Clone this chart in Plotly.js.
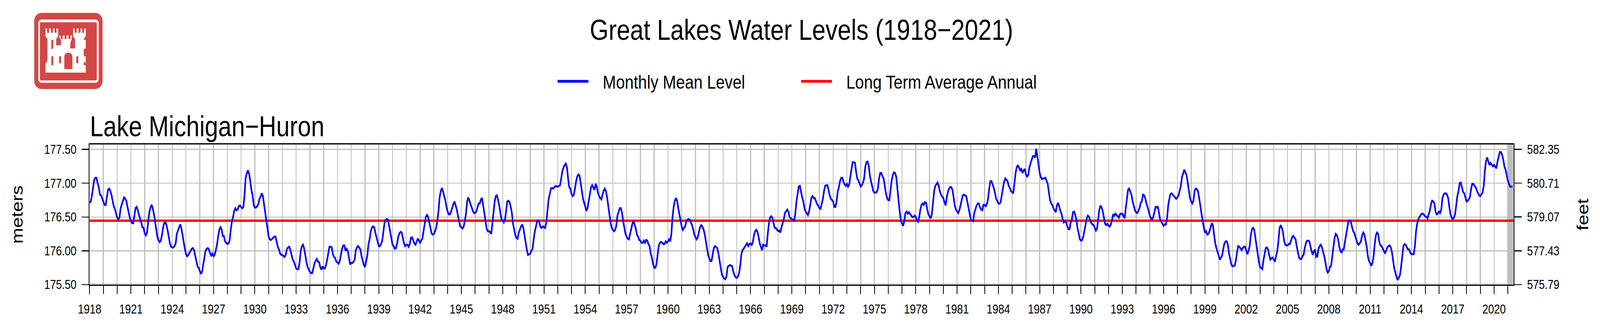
<!DOCTYPE html>
<html>
<head>
<meta charset="utf-8">
<script src="https://cdn.plot.ly/plotly-3.0.1.min.js"></script>
<style>html,body{margin:0;padding:0;background:#fff;overflow:hidden}</style>
</head>
<body>
<div id="chart" style="width:4927px;height:858px"></div>
<script>
const startYear = 1918;
const levels1918s = [
176.71,176.73,176.82,176.94,177.05,177.08,177.08,177.00,176.94,176.83,176.82,176.77,
176.73,176.68,176.68,176.78,176.90,176.92,176.89,176.83,176.73,176.66,176.62,176.55];
const levels1920s = [
176.49,176.47,176.49,176.63,176.69,176.75,176.79,176.77,176.74,176.65,176.57,176.49,
176.44,176.41,176.41,176.53,176.63,176.65,176.60,176.53,176.48,176.42,176.35,176.34,
176.26,176.23,176.27,176.42,176.57,176.64,176.68,176.63,176.55,176.44,176.32,176.21,
176.16,176.13,176.15,176.23,176.34,176.41,176.42,176.38,176.30,176.19,176.11,176.06,
176.05,176.05,176.07,176.11,176.25,176.30,176.34,176.39,176.33,176.23,176.11,176.03,
175.95,175.92,175.94,175.97,176.00,176.03,176.04,176.01,175.93,175.85,175.77,175.75,
175.70,175.66,175.69,175.79,175.87,176.00,176.03,176.04,176.02,175.96,175.93,175.96,
175.92,175.94,176.01,176.09,176.21,176.31,176.35,176.32,176.22,176.22,176.14,176.12,
176.10,176.11,176.15,176.31,176.44,176.50,176.59,176.63,176.60,176.61,176.66,176.67,
176.65,176.63,176.65,176.83,177.08,177.15,177.19,177.14,177.03,176.90,176.82,176.68];
const levels1930s = [
176.64,176.64,176.66,176.69,176.77,176.80,176.85,176.81,176.69,176.58,176.44,176.33,
176.21,176.17,176.16,176.18,176.20,176.21,176.21,176.14,176.06,176.02,175.96,175.94,
175.94,175.92,175.91,175.95,176.03,176.05,176.06,176.01,175.94,175.87,175.84,175.78,
175.74,175.73,175.73,175.83,176.00,176.07,176.09,176.03,175.92,175.83,175.76,175.72,
175.69,175.67,175.67,175.74,175.82,175.85,175.88,175.84,175.83,175.76,175.72,175.77,
175.74,175.74,175.79,175.87,175.97,176.06,176.06,176.05,175.95,175.91,175.89,175.84,
175.83,175.81,175.85,175.93,176.03,176.08,176.08,176.00,176.03,176.00,175.90,175.80,
175.82,175.82,175.84,175.87,176.01,176.05,176.07,176.05,176.02,175.92,175.85,175.79,
175.76,175.84,175.93,176.09,176.17,176.29,176.34,176.36,176.35,176.27,176.21,176.13,
176.07,176.07,176.10,176.15,176.29,176.41,176.46,176.47,176.46,176.36,176.27,176.18];
const levels1940s = [
176.09,176.07,176.03,176.04,176.11,176.21,176.26,176.28,176.27,176.19,176.11,176.07,
176.09,176.09,176.06,176.10,176.19,176.20,176.16,176.11,176.09,176.13,176.18,176.15,
176.12,176.15,176.18,176.29,176.40,176.50,176.53,176.50,176.42,176.35,176.26,176.24,
176.25,176.29,176.34,176.44,176.58,176.79,176.88,176.93,176.88,176.81,176.75,176.65,
176.58,176.54,176.54,176.58,176.64,176.69,176.73,176.67,176.61,176.52,176.44,176.36,
176.35,176.33,176.36,176.44,176.55,176.73,176.79,176.74,176.69,176.64,176.59,176.56,
176.56,176.58,176.64,176.70,176.70,176.76,176.78,176.68,176.56,176.44,176.33,176.29,
176.29,176.28,176.25,176.40,176.58,176.73,176.81,176.82,176.75,176.67,176.56,176.46,
176.45,176.42,176.46,176.59,176.73,176.74,176.72,176.65,176.56,176.40,176.30,176.23,
176.19,176.18,176.27,176.32,176.36,176.39,176.34,176.23,176.11,176.02,175.94,175.95];
const levels1950s = [
175.96,176.00,176.03,176.17,176.29,176.36,176.44,176.45,176.42,176.35,176.34,176.36,
176.35,176.34,176.42,176.59,176.76,176.84,176.92,176.93,176.92,176.94,176.96,176.95,
176.95,176.96,176.97,177.07,177.18,177.23,177.27,177.29,177.23,177.07,176.94,176.92,
176.84,176.81,176.83,176.92,177.03,177.10,177.13,177.11,177.00,176.86,176.77,176.71,
176.64,176.59,176.64,176.73,176.84,176.94,176.97,176.93,176.90,176.99,176.95,176.86,
176.81,176.78,176.76,176.83,176.89,176.92,176.88,176.79,176.65,176.54,176.42,176.34,
176.31,176.29,176.31,176.37,176.52,176.58,176.63,176.63,176.56,176.44,176.34,176.25,
176.21,176.18,176.17,176.25,176.33,176.40,176.44,176.39,176.33,176.24,176.21,176.16,
176.15,176.12,176.12,176.15,176.12,176.16,176.15,176.10,176.07,175.96,175.90,175.81,
175.75,175.75,175.80,175.94,176.07,176.12,176.13,176.12,176.10,176.10,176.14,176.12];
const levels1960s = [
176.14,176.17,176.14,176.25,176.50,176.65,176.74,176.78,176.74,176.63,176.54,176.42,
176.36,176.31,176.33,176.36,176.43,176.46,176.47,176.46,176.42,176.38,176.32,176.24,
176.20,176.17,176.20,176.28,176.35,176.38,176.36,176.32,176.25,176.15,176.05,175.94,
175.89,175.85,175.85,175.94,176.04,176.07,176.05,176.04,175.96,175.86,175.76,175.65,
175.62,175.59,175.58,175.62,175.76,175.78,175.79,175.78,175.77,175.69,175.64,175.61,
175.60,175.62,175.67,175.78,175.95,176.01,176.03,176.06,176.08,176.11,176.07,176.10,
176.11,176.08,176.13,176.23,176.29,176.31,176.28,176.21,176.11,176.06,176.01,176.09,
176.08,176.08,176.06,176.25,176.40,176.49,176.51,176.49,176.41,176.34,176.34,176.31,
176.29,176.30,176.27,176.35,176.41,176.47,176.56,176.59,176.61,176.58,176.50,176.48,
176.47,176.46,176.44,176.55,176.73,176.84,176.95,176.96,176.86,176.79,176.73,176.63];
const levels1970s = [
176.58,176.55,176.53,176.58,176.70,176.78,176.81,176.78,176.78,176.73,176.69,176.67,
176.63,176.62,176.69,176.76,176.88,176.96,176.97,176.97,176.90,176.82,176.77,176.75,
176.73,176.65,176.65,176.73,176.88,176.94,177.03,177.08,177.08,177.02,176.98,176.96,
176.99,176.95,176.98,177.10,177.21,177.31,177.31,177.30,177.17,177.07,177.04,176.99,
176.95,176.97,177.01,177.07,177.24,177.31,177.32,177.26,177.11,177.03,176.94,176.88,
176.86,176.86,176.87,176.92,177.07,177.15,177.15,177.10,177.07,176.94,176.85,176.78,
176.75,176.75,176.90,177.04,177.12,177.16,177.15,177.09,176.92,176.73,176.58,176.44,
176.41,176.37,176.44,176.56,176.58,176.55,176.57,176.55,176.53,176.50,176.50,176.52,
176.50,176.45,176.43,176.50,176.61,176.68,176.70,176.68,176.72,176.71,176.61,176.54,
176.51,176.48,176.54,176.71,176.88,176.96,176.99,177.01,176.96,176.88,176.83,176.81];
const levels1980s = [
176.78,176.72,176.67,176.79,176.87,176.92,176.94,176.94,176.90,176.79,176.67,176.61,
176.58,176.56,176.60,176.68,176.76,176.82,176.83,176.82,176.81,176.72,176.64,176.56,
176.46,176.45,176.44,176.56,176.62,176.67,176.70,176.70,176.64,176.61,176.60,176.68,
176.68,176.66,176.69,176.77,176.92,177.03,177.03,176.98,176.93,176.86,176.77,176.74,
176.70,176.70,176.72,176.83,176.93,177.02,177.07,177.05,177.03,176.96,176.93,176.88,
176.87,176.85,177.00,177.15,177.24,177.26,177.23,177.19,177.21,177.15,177.19,177.21,
177.13,177.10,177.12,177.23,177.29,177.35,177.40,177.40,177.38,177.51,177.38,177.24,
177.15,177.09,177.06,177.07,177.07,177.08,177.04,176.99,176.87,176.75,176.70,176.68,
176.63,176.60,176.57,176.67,176.71,176.66,176.59,176.55,176.47,176.42,176.44,176.42,
176.36,176.32,176.32,176.42,176.46,176.57,176.58,176.53,176.46,176.33,176.26,176.17];
const levels1990s = [
176.15,176.16,176.21,176.30,176.39,176.48,176.52,176.50,176.45,176.41,176.39,176.38,
176.34,176.30,176.33,176.48,176.61,176.67,176.64,176.58,176.48,176.40,176.38,176.40,
176.37,176.36,176.39,176.45,176.54,176.52,176.55,176.53,176.52,176.49,176.54,176.55,
176.55,176.51,176.48,176.63,176.79,176.90,176.92,176.88,176.83,176.73,176.67,176.60,
176.57,176.56,176.59,176.63,176.71,176.73,176.83,176.82,176.78,176.70,176.65,176.58,
176.52,176.48,176.47,176.50,176.59,176.65,176.64,176.65,176.56,176.46,176.43,176.40,
176.37,176.39,176.39,176.48,176.67,176.77,176.84,176.85,176.83,176.81,176.79,176.77,
176.79,176.82,176.89,176.96,177.09,177.15,177.20,177.16,177.12,177.01,176.88,176.78,
176.73,176.70,176.74,176.89,176.92,176.91,176.88,176.79,176.67,176.55,176.44,176.35,
176.27,176.29,176.24,176.25,176.29,176.35,176.41,176.37,176.23,176.11,176.04,175.98];
const levels2000s = [
175.91,175.87,175.90,175.93,176.03,176.11,176.14,176.14,176.09,175.96,175.88,175.80,
175.77,175.78,175.78,175.86,175.98,176.07,176.06,176.03,176.01,176.04,176.06,176.06,
176.00,175.95,176.00,176.07,176.23,176.32,176.34,176.31,176.19,176.06,175.94,175.84,
175.76,175.74,175.73,175.86,175.96,176.04,176.05,176.02,175.94,175.87,175.89,175.90,
175.87,175.84,175.92,175.99,176.13,176.33,176.38,176.34,176.28,176.15,176.09,176.08,
176.08,176.10,176.10,176.15,176.20,176.22,176.19,176.17,176.07,175.97,175.90,175.88,
175.88,175.92,175.94,176.04,176.11,176.15,176.15,176.14,176.05,175.99,175.94,176.00,
176.01,175.91,175.92,176.03,176.07,176.09,176.05,175.99,175.92,175.83,175.73,175.68,
175.70,175.76,175.78,175.92,176.06,176.19,176.25,176.23,176.18,176.07,176.00,175.97,
176.02,176.02,176.13,176.23,176.34,176.43,176.45,176.44,176.37,176.30,176.27,176.21];
const levels2010s = [
176.15,176.11,176.09,176.11,176.14,176.23,176.27,176.24,176.15,176.06,175.92,175.85,
175.82,175.78,175.82,175.92,176.10,176.23,176.27,176.25,176.13,176.08,176.07,176.03,
175.99,175.96,176.01,176.05,176.07,176.08,176.05,175.98,175.86,175.74,175.68,175.61,
175.57,175.61,175.64,175.77,175.94,176.07,176.10,176.09,176.05,176.02,176.02,175.97,
175.95,175.95,175.95,176.07,176.29,176.40,176.47,176.50,176.53,176.55,176.55,176.53,
176.51,176.50,176.48,176.54,176.59,176.69,176.74,176.73,176.70,176.58,176.54,176.55,
176.58,176.56,176.61,176.78,176.83,176.85,176.85,176.83,176.78,176.65,176.54,176.49,
176.47,176.49,176.54,176.67,176.81,176.88,177.00,177.01,176.93,176.87,176.85,176.78,
176.73,176.74,176.76,176.80,176.92,176.99,176.99,176.96,176.94,176.89,176.85,176.82,
176.81,176.84,176.86,176.96,177.19,177.33,177.38,177.32,177.27,177.30,177.27,177.25];
const levels2020s = [
177.27,177.25,177.22,177.32,177.39,177.46,177.46,177.42,177.35,177.25,177.20,177.11,
177.04,176.99,176.95,176.95,176.95];
const longTermAverage = 176.445;
const meterTicks = [175.5,176.0,176.5,177.0,177.5];
const meterLabels = ["175.50","176.00","176.50","177.00","177.50"];
const feetTicks = [575.79,577.43,579.07,580.71,582.35];
const feetLabels = ["575.79","577.43","579.07","580.71","582.35"];
const lastTickYear = 2021;
const xEnd = 2021.42;
const forecastStart = 2020.95;
const yBottom = 175.5, yTop = 177.573, feetPerMeter = 3.28084;

const levels = [].concat(levels1918s,levels1920s,levels1930s,levels1940s,levels1950s,
  levels1960s,levels1970s,levels1980s,levels1990s,levels2000s,levels2010s,levels2020s);
const months = levels.map((_,i)=>startYear + i/12);
const yearTicks = [], yearLabels = [];
for (let y=startYear; y<=lastTickYear; y++){ yearTicks.push(y); yearLabels.push((y-startYear)%3===0 ? String(y) : ""); }

const logoSvg = `<svg xmlns="http://www.w3.org/2000/svg" width="633" height="585" viewBox="0 0 211 195">
<rect width="211" height="195" rx="22" fill="#D24844"/>
<rect x="13" y="17" width="186" height="162" rx="9" fill="#fff"/>
<rect x="18" y="24" width="175" height="149" rx="4" fill="#D24844"/>
<path fill="#fff" fill-rule="evenodd" d="M35 40h5v11h6V40h6v11h6V40h5v11h6V40h5v20l-6 7v16h15V70l-5-7V58h4v9h6V58h6v9h6V58h6v9h6V58h4v9l-4 9-1 15h15V67l-6-7V40h5v11h6V40h6v11h6V40h5v11h6V40h5v20l-6 7v56l6 7v23H35v-23l6-7V67l-6-7z
M53 69h6v23h-6z M153 69h6v23h-6z M53 111h6v23h-6z M77 111h6v18h-6z M130 111h6v18h-6z M153 111h6v23h-6z
M93 144v-31c0-15 25-15 25 0v31z"/>
</svg>`;
const logoUri = "data:image/svg+xml;charset=utf-8," + encodeURIComponent(logoSvg);

const FONT = '"Liberation Sans", Arimo, Helvetica, Arial, sans-serif';
const traces = [
  {x:[startYear,xEnd], y:[longTermAverage,longTermAverage], type:"scatter", mode:"lines",
   name:"Long Term Average Annual", legendrank:2, line:{color:"#FF0000",width:6}, hoverinfo:"skip"},
  {x:months, y:levels, type:"scatter", mode:"lines", name:"Monthly Mean Level", legendrank:1,
   line:{color:"#0000FF",width:5,shape:"linear"}},
  {x:[], y:[], yaxis:"y2", type:"scatter", mode:"lines", showlegend:false, hoverinfo:"skip"}
];
const axisBase = {showline:true, linecolor:"#000", linewidth:3, ticks:"outside", tickcolor:"#000", tickwidth:2.5, zeroline:false,
  tickfont:{family:FONT,size:32.5,color:"#000"}};
const layout = {
  width:4927, height:858, paper_bgcolor:"#fff", plot_bgcolor:"#fff",
  font:{family:FONT,color:"#000"},
  margin:{l:276,r:266,t:370,b:129,autoexpand:false},
  showlegend:true,
  title:{text:"Great Lakes Water Levels (1918\u22122021)", font:{family:FONT,size:74.5,color:"#000"},
    xref:"container", x:2468/4927, xanchor:"center", yref:"container", y:1-102/858, yanchor:"bottom", pad:{b:0}},
  legend:{orientation:"h", x:(1712-276)/4385, xanchor:"left", y:(729-170)/359, yanchor:"top",
    font:{family:FONT,size:49,color:"#000"}, itemwidth:95, entrywidthmode:"pixels", entrywidth:640, bgcolor:"rgba(0,0,0,0)"},
  xaxis:Object.assign({},axisBase,{range:[startYear,xEnd], tickmode:"array", tickvals:yearTicks, ticktext:yearLabels, ticklen:21, ticklabelstandoff:11,
    showgrid:true, gridcolor:"#BEBEBE", gridwidth:3, mirror:true}),
  yaxis:Object.assign({},axisBase,{range:[yBottom,yTop], tickmode:"array", tickvals:meterTicks, ticktext:meterLabels, ticklen:22, ticklabelstandoff:9,
    showgrid:true, gridcolor:"#BEBEBE", gridwidth:2.5, mirror:false,
    title:{text:"meters", font:{family:FONT,size:49,color:"#000"}, standoff:51}}),
  yaxis2:Object.assign({},axisBase,{range:[yBottom*feetPerMeter,yTop*feetPerMeter], overlaying:"y", side:"right", anchor:"x",
    tickmode:"array", tickvals:feetTicks, ticktext:feetLabels, ticklen:22, ticklabelstandoff:10, showgrid:false,
    title:{text:"feet", font:{family:FONT,size:49,color:"#000"}, standoff:56}}),
  shapes:[
    {type:"rect", layer:"between", xref:"x", yref:"paper", x0:forecastStart, x1:xEnd, y0:0, y1:1, fillcolor:"#BEBEBE", line:{width:0}},
    {type:"line", layer:"between", xref:"paper", yref:"paper", x0:0, x1:1, y0:2/359, y1:2/359, line:{color:"#BEBEBE",width:2}},
    {type:"line", layer:"below", xref:"paper", yref:"paper", x0:0, x1:1, y0:1+3/359, y1:1+3/359, line:{color:"#BEBEBE",width:2}}
  ],
  annotations:[{text:"Lake Michigan\u2212Huron", xref:"paper", yref:"paper", x:0, xanchor:"left", xshift:0, y:(729-366)/359, yanchor:"bottom",
    showarrow:false, font:{family:FONT,size:74,color:"#000"}, borderpad:0}],
  images:[{source:logoUri, xref:"paper", yref:"paper", x:(105-276)/4385, sizex:211/4385, y:(729-33)/359, sizey:195/359,
    xanchor:"left", yanchor:"top", sizing:"stretch", layer:"above"}]
};
Plotly.newPlot("chart", traces, layout, {displayModeBar:false, staticPlot:true}).then(function(){
  document.querySelectorAll(".legendtext").forEach(function(t){ t.setAttribute("x", +t.getAttribute("x") + 39); });
  document.querySelectorAll(".legendlines path").forEach(function(p){ p.style.strokeWidth = "7px"; });
  const fit = Math.min(1, window.innerWidth / 4927);
  const box = document.getElementById("chart");
  box.style.transformOrigin = "0 0";
  box.style.transform = "scale(" + fit + ",1)";
});
</script>
</body>
</html>
